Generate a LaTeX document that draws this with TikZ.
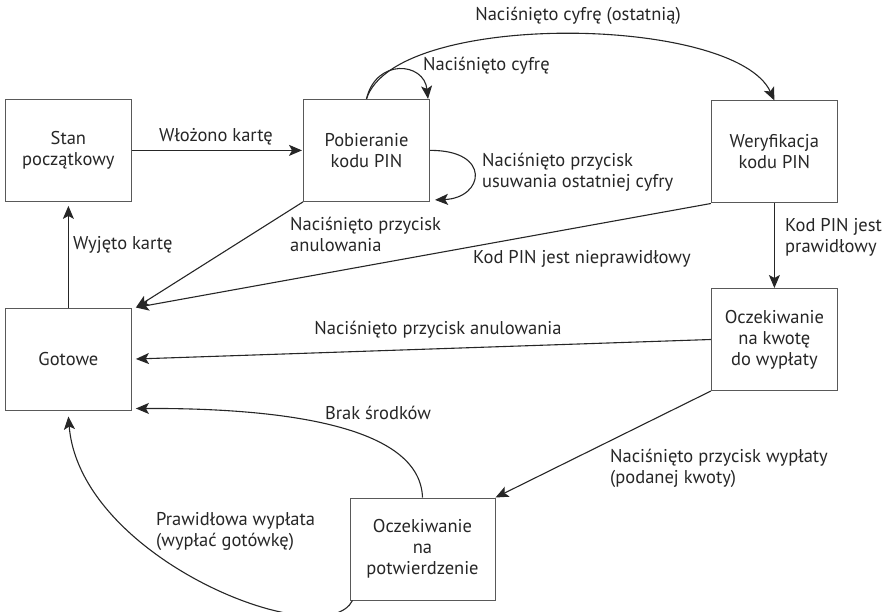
\documentclass[tikz,border=0pt]{standalone}
\usepackage{fontspec}
\setmainfont{PT Sans}
\usetikzlibrary{arrows.meta}

\begin{document}
\begin{tikzpicture}
                \tikzset{x=1pt, y=-1pt}
                \tikzstyle{every node}=[font=\fontsize{18.5}{21}\selectfont, text=black!85]
                \tikzstyle{state}=[rectangle, draw=black!65, line width=1pt, minimum width=126pt, minimum height=102pt, align=center, inner sep=0pt]
                \tikzstyle{lbl}=[align=left, inner sep=0pt]
                \tikzstyle{trans}=[line width=1.1pt, draw=black!85, -{Stealth[length=13pt, width=11pt, inset=3pt]}]

                \useasboundingbox (0,0) rectangle (882,612);

                \draw (68.4, 150.4)  node[state]  (start)   {Stan\\początkowy};
                \draw (366.5, 150.4) node[state]  (pin)     {Pobieranie\\kodu PIN};
                \draw (774.4, 152.0) node[state]  (verify)  {Weryfikacja\\kodu PIN};
                \draw (68.4, 359.0)  node[state]  (ready)   {Gotowe};
                \draw (774.4, 339.5) node[state]  (amount)  {Oczekiwanie\\na kwotę\\do wypłaty};
                \draw (422.5, 549.0) node[state, minimum width=145pt] (confirm) {Oczekiwanie\\na\\potwierdzenie};

                \draw (216.0, 137.0) node              (l1)  {Włożono kartę};
                \draw (578.0, 16.0)  node              (l2)  {Naciśnięto cyfrę (ostatnią)};
                \draw (423.0, 66.0)  node[lbl, anchor=west] (l3)  {Naciśnięto cyfrę};
                \draw (482.0, 172.0) node[lbl, anchor=west] (l4)  {Naciśnięto przycisk\\usuwania ostatniej cyfry};
                \draw (290.0, 234.0) node[lbl, anchor=west] (l5)  {Naciśnięto przycisk\\anulowania};
                \draw (582.0, 259.0) node              (l6)  {Kod PIN jest nieprawidłowy};
                \draw (785.0, 237.0) node[lbl, anchor=west] (l7)  {Kod PIN jest\\prawidłowy};
                \draw (73.0, 245.0)  node[lbl, anchor=west] (l8)  {Wyjęto kartę};
                \draw (438.0, 330.0) node              (l9)  {Naciśnięto przycisk anulowania};
                \draw (610.0, 468.0) node[lbl, anchor=west] (l10) {Naciśnięto przycisk wypłaty\\(podanej kwoty)};
                \draw (378.0, 413.0) node              (l11) {Brak środków};
                \draw (156.0, 531.0) node[lbl, anchor=west] (l12) {Prawidłowa wypłata\\(wypłać gotówkę)};

                \draw [trans]       (start) -- ([xshift=-1pt]pin.west);
                \draw [trans]       (pin.north) .. controls (376,58) and (424,62) .. ([xshift=-2pt]pin.north east);
                \draw [trans]       (pin.north) .. controls (395,10) and (735,15) .. (verify.north);
                \draw [trans]       (pin.east) .. controls (492,150) and (484,198) .. ([xshift=5pt, yshift=2pt]pin.south east);
                \draw [trans]       (pin.south west) -- ([xshift=4pt]ready.north east);
                \draw [trans]       (verify.south west) -- ([xshift=4pt]ready.north east);
                \draw [trans]       (verify.south) -- (amount.north);
                \draw [trans]       (amount.west) -- ([xshift=4pt]ready.east);
                \draw [trans]       (amount.south west) -- (confirm.north east);
                \draw [trans]       (confirm.north) .. controls (420,420) and (260,408) .. ([xshift=4pt, yshift=2pt]ready.south east);
                \draw [trans]       ([xshift=3pt]confirm.south west) .. controls (325,655) and (80,560) .. ([yshift=-6pt]ready.south);
                \draw [trans]       (ready) -- ([yshift=-4pt]start.south);
            \end{tikzpicture}
\end{document}
